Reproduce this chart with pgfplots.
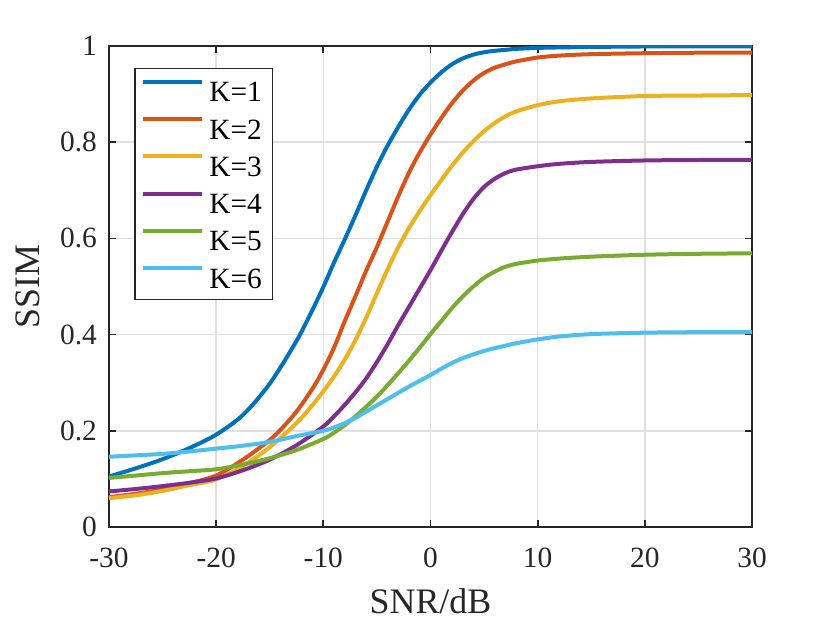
\documentclass[border=0pt]{standalone}
\usepackage{pgfplots}
\pgfplotsset{compat=1.18}
\usepackage{fontspec}
\setmainfont{Liberation Serif}
\definecolor{c1}{rgb}{0,0.447,0.741}
\definecolor{c2}{rgb}{0.85,0.325,0.098}
\definecolor{c3}{rgb}{0.929,0.694,0.125}
\definecolor{c4}{rgb}{0.494,0.184,0.556}
\definecolor{c5}{rgb}{0.466,0.674,0.188}
\definecolor{c6}{rgb}{0.301,0.745,0.933}
\definecolor{axc}{HTML}{262626}
\definecolor{gridc}{HTML}{DFDFDF}
\begin{document}
\begin{tikzpicture}
\path[use as bounding box] (-109bp,-96bp) rectangle (721bp,527bp);
\begin{axis}[
  at={(0,0)}, anchor=south west,
  scale only axis, width=643bp, height=481bp,
  xmin=-30, xmax=30, ymin=0, ymax=1,
  xtick={-30,-20,-10,0,10,20,30}, xticklabels={-30,-20,-10,0,10,20,30},
  ytick={0,0.2,0.4,0.6,0.8,1}, yticklabels={0,0.2,0.4,0.6,0.8,1},
  tick align=inside, xtick pos=both, ytick pos=both,
  major tick length=7bp,
  axis line style={axc, line width=1.7bp},
  every tick/.style={axc, line width=1.7bp},
  grid=major, major grid style={gridc, line width=1.5bp},
  tick label style={font=\fontsize{29.5}{29.5}\selectfont, text=axc, inner sep=0pt},
  xticklabel style={anchor=north, yshift=-21bp},
  yticklabel style={anchor=east, xshift=-12bp},
  xlabel={SNR/dB}, ylabel={SSIM},
  label style={font=\fontsize{36}{36}\selectfont, text=axc, inner sep=0pt},
  xlabel style={at={(axis description cs:0.5,-0.1788)}, anchor=base},
  ylabel style={at={(axis description cs:-0.1084,0.5)}, anchor=base},
  no markers,
  every axis plot/.append style={line width=4bp, smooth, tension=0.5},
  legend style={at={(0.0394,0.955)}, anchor=north west, draw=axc, line width=1.3bp, fill=white,
    font=\fontsize{29.5}{29.5}\selectfont, inner xsep=6.4bp, inner ysep=11.5bp, row sep=15.3bp,
    nodes={inner sep=0pt, text height=20bp, text depth=0bp, text width=57bp, align=left, text=black}},
  legend cell align=left,
  legend image code/.code={\draw[#1, line width=4bp] (0bp,10bp) -- (59bp,10bp); \path (64bp,10bp);},
]
\addplot[c1] coordinates {
(-30,0.105)(-27.5,0.122)(-25,0.141)(-22.5,0.164)(-20,0.192)(-17.5,0.233)(-15,0.298)(-12.5,0.387)(-11,0.452)
(-10,0.499)(-9,0.550)(-8,0.598)(-7,0.648)(-6,0.700)(-5,0.749)(-4,0.793)(-3,0.832)(-2,0.868)(-1,0.899)
(0,0.924)(1,0.945)(2,0.962)(3,0.974)(4,0.982)(5,0.987)(6,0.990)(7,0.992)(8,0.994)(10,0.996)
(12,0.997)(15,0.998)(20,0.999)(25,0.999)(30,0.999)};
\addlegendentry{K=1}
\addplot[c2] coordinates {
(-30,0.062)(-27.5,0.069)(-25,0.078)(-22.5,0.091)(-20,0.107)(-17.5,0.140)(-15,0.181)(-13.75,0.208)(-12.5,0.240)(-11,0.288)
(-10,0.327)(-9,0.373)(-8,0.428)(-7,0.480)(-6,0.533)(-5,0.582)(-4,0.635)(-3,0.688)(-2,0.737)(-1,0.779)
(0,0.816)(1,0.850)(2,0.881)(3,0.907)(4,0.928)(5,0.944)(6,0.955)(7,0.962)(8,0.968)(10,0.976)
(12,0.980)(15,0.983)(20,0.985)(25,0.986)(30,0.986)};
\addlegendentry{K=2}
\addplot[c3] coordinates {
(-30,0.060)(-27.5,0.066)(-25,0.075)(-22.5,0.087)(-20,0.099)(-17.5,0.127)(-15,0.166)(-12.5,0.216)(-11,0.254)
(-10,0.282)(-9,0.313)(-8,0.348)(-7,0.389)(-6,0.435)(-5,0.486)(-4,0.536)(-3,0.582)(-2,0.622)(-1,0.657)
(0,0.690)(1,0.721)(2,0.751)(3,0.778)(4,0.802)(5,0.823)(6,0.840)(7,0.854)(8,0.864)(10,0.877)
(12,0.885)(15,0.891)(20,0.896)(25,0.897)(30,0.898)};
\addlegendentry{K=3}
\addplot[c4] coordinates {
(-30,0.074)(-27.5,0.079)(-25,0.085)(-22.5,0.092)(-20,0.101)(-17.5,0.118)(-15,0.140)(-12.5,0.170)
(-10,0.209)(-9,0.230)(-8,0.254)(-7,0.280)(-6,0.309)(-5,0.343)(-4,0.380)(-3,0.420)(-2,0.458)(-1,0.496)
(0,0.534)(1,0.574)(2,0.613)(3,0.650)(4,0.682)(5,0.707)(6,0.724)(7,0.736)(8,0.743)(10,0.750)
(12,0.755)(15,0.759)(20,0.762)(25,0.763)(30,0.763)};
\addlegendentry{K=4}
\addplot[c5] coordinates {
(-30,0.102)(-27.5,0.107)(-25,0.112)(-22.5,0.116)(-20,0.120)(-17.5,0.130)(-15,0.143)(-12.5,0.160)
(-10,0.183)(-9,0.196)(-8,0.212)(-7,0.230)(-6,0.250)(-5,0.271)(-4,0.295)(-3,0.320)(-2,0.346)(-1,0.373)
(0,0.401)(1,0.428)(2,0.455)(3,0.479)(4,0.500)(5,0.518)(6,0.531)(7,0.541)(8,0.547)(10,0.554)
(12,0.558)(15,0.562)(20,0.566)(25,0.568)(30,0.569)};
\addlegendentry{K=5}
\addplot[c6] coordinates {
(-30,0.146)(-27.5,0.149)(-25,0.152)(-22.5,0.157)(-20,0.163)(-17.5,0.169)(-15,0.177)(-12.5,0.189)
(-10,0.200)(-9,0.207)(-8,0.216)(-7,0.227)(-6,0.240)(-5,0.253)(-4,0.266)(-3,0.279)(-2,0.292)(-1,0.304)
(0,0.316)(1,0.329)(2,0.341)(3,0.351)(4,0.359)(5,0.366)(6,0.372)(7,0.377)(8,0.382)(10,0.390)
(12,0.396)(15,0.401)(20,0.404)(25,0.405)(30,0.405)};
\addlegendentry{K=6}
\end{axis}
\end{tikzpicture}
\end{document}
